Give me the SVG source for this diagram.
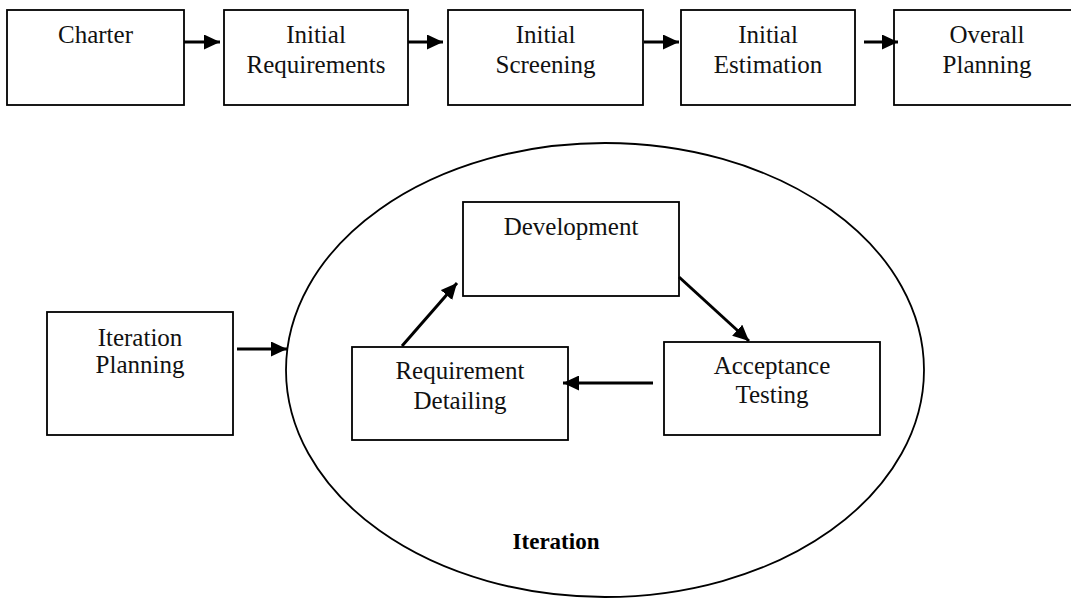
<svg xmlns="http://www.w3.org/2000/svg" width="1071" height="598" viewBox="0 0 1071 598">
<style>
.box{fill:#fff;stroke:#000;stroke-width:1.8}
.t{font-family:"Liberation Serif","Times New Roman",serif;font-size:25px;fill:#111;text-anchor:middle}
.b{font-family:"Liberation Serif","Times New Roman",serif;font-size:23px;font-weight:bold;fill:#000;text-anchor:middle}
.c{stroke:#000;stroke-width:3;fill:none;marker-end:url(#ah)}
</style>
<defs>
<marker id="ah" markerUnits="userSpaceOnUse" markerWidth="16" markerHeight="15" refX="16" refY="7.5" orient="auto">
<path d="M0,0 L16,7.5 L0,15 z" fill="#000"/>
</marker>
</defs>
<rect width="1071" height="598" fill="#fff"/>
<g id="iteration-ellipse">
<ellipse cx="605" cy="370" rx="319" ry="227" fill="none" stroke="#000" stroke-width="1.8"/>
<text class="b" x="556" y="549">Iteration</text>
</g>
<g id="charter"><rect class="box" x="7" y="10" width="177" height="95"/><text class="t" x="95.5" y="43">Charter</text></g>
<g id="initial-requirements"><rect class="box" x="224" y="10" width="184" height="95"/><text class="t" x="316" y="43">Initial</text><text class="t" x="316" y="73">Requirements</text></g>
<g id="initial-screening"><rect class="box" x="448" y="10" width="195" height="95"/><text class="t" x="545.5" y="43">Initial</text><text class="t" x="545.5" y="73">Screening</text></g>
<g id="initial-estimation"><rect class="box" x="681" y="10" width="174" height="95"/><text class="t" x="768" y="43">Initial</text><text class="t" x="768" y="73">Estimation</text></g>
<g id="overall-planning"><rect class="box" x="894" y="10" width="186" height="95"/><text class="t" x="987" y="43">Overall</text><text class="t" x="987" y="73">Planning</text></g>
<g id="iteration-planning"><rect class="box" x="47" y="312" width="186" height="123"/><text class="t" x="140" y="346">Iteration</text><text class="t" x="140" y="373">Planning</text></g>
<g id="development"><rect class="box" x="463" y="202" width="216" height="94"/><text class="t" x="571" y="235">Development</text></g>
<g id="requirement-detailing"><rect class="box" x="352" y="347" width="216" height="93"/><text class="t" x="460" y="379">Requirement</text><text class="t" x="460" y="409">Detailing</text></g>
<g id="acceptance-testing"><rect class="box" x="664" y="342" width="216" height="93"/><text class="t" x="772" y="374">Acceptance</text><text class="t" x="772" y="403">Testing</text></g>
<g id="connectors">
<line class="c" x1="184" y1="42" x2="220" y2="42"/>
<line class="c" x1="408" y1="42" x2="443" y2="42"/>
<line class="c" x1="644" y1="42" x2="679" y2="42"/>
<line class="c" x1="864" y1="42" x2="898" y2="42"/>
<line class="c" x1="237" y1="349" x2="287" y2="349"/>
<line class="c" x1="402" y1="346" x2="457" y2="283"/>
<line class="c" x1="679" y1="277" x2="749" y2="341"/>
<line class="c" x1="653" y1="383" x2="563" y2="383"/>
</g>
</svg>
